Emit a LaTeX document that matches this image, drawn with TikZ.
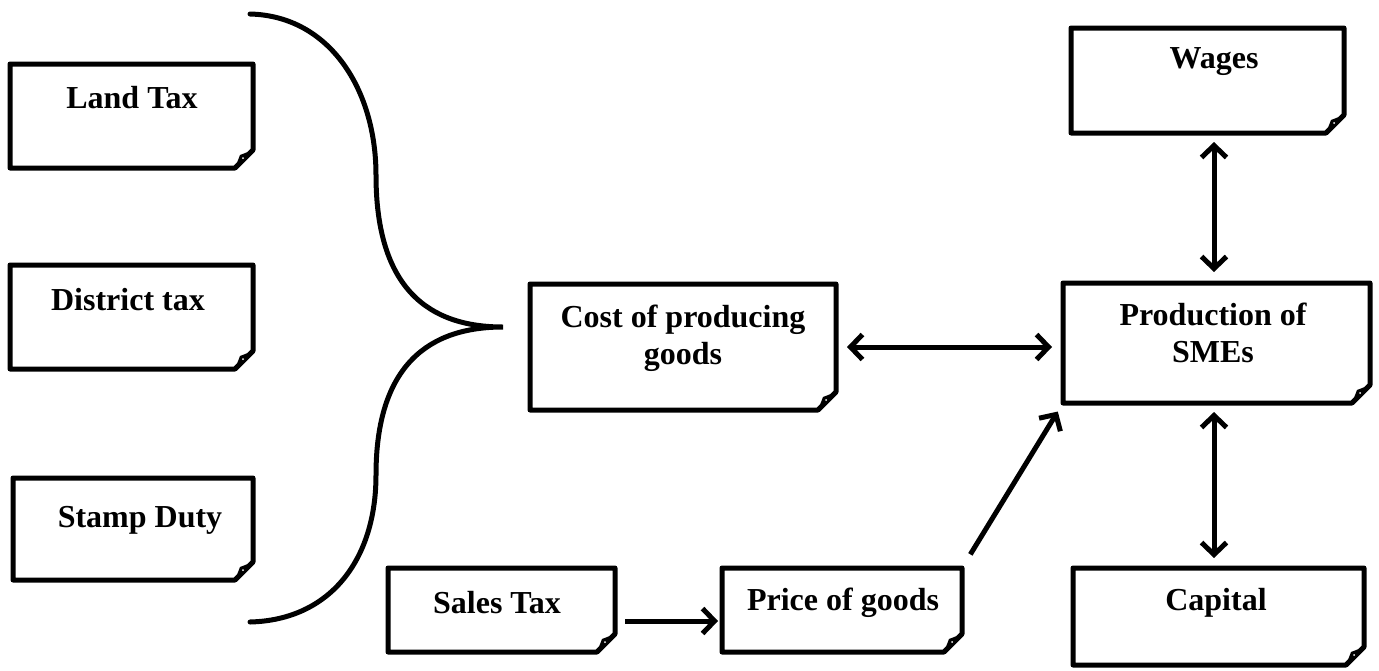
\documentclass[tikz,border=0pt]{standalone}
\usepackage{fontspec}
\setmainfont{Liberation Serif}
\usetikzlibrary{arrows.meta,calc}
\tikzset{
  boxn/.style={rectangle, inner sep=0pt, outer sep=0pt},
  boxline/.style={line width=5pt, line join=round},
  lbl/.style={inner sep=0pt, align=center, font=\fontsize{32}{37}\selectfont\bfseries},
  arr/.style={line width=5pt, -{Straight Barb[length=12pt,width=25pt]}},
  darr/.style={line width=5pt, {Straight Barb[length=12pt,width=25pt]}-{Straight Barb[length=12pt,width=25pt]}},
  bracestyle/.style={line width=5pt, line cap=round}
}
\newcommand\notebox[1]{%
  \draw[boxline] (#1.north west) -- (#1.north east) -- ([yshift=18pt]#1.south east)
     -- ([xshift=-18pt]#1.south east) -- (#1.south west) -- cycle;
  \fill ([yshift=18pt]#1.south east) .. controls ([xshift=-6pt,yshift=15pt]#1.south east)
     .. ([xshift=-13pt,yshift=13pt]#1.south east) .. controls ([xshift=-15pt,yshift=7pt]#1.south east)
     .. ([xshift=-18pt]#1.south east) -- cycle;
  \fill[white] ([xshift=-10pt,yshift=10pt]#1.south east) circle (1pt);
}
\begin{document}
\begin{tikzpicture}[x=1pt,y=-1pt]
\path[use as bounding box] (0,0) rectangle (1379,670);

% boxes
\node[boxn, minimum width=243pt, minimum height=104pt] (land) at (131.5,116) {};
\node[boxn, minimum width=243pt, minimum height=104pt] (district) at (131.5,317) {};
\node[boxn, minimum width=240pt, minimum height=102pt] (stamp) at (133,529) {};
\node[boxn, minimum width=306pt, minimum height=126pt] (cost) at (683,347) {};
\node[boxn, minimum width=307pt, minimum height=120pt] (prod) at (1216.5,343) {};
\node[boxn, minimum width=273pt, minimum height=105pt] (wages) at (1207.5,80.5) {};
\node[boxn, minimum width=291pt, minimum height=97pt] (capital) at (1218.5,616.5) {};
\node[boxn, minimum width=227pt, minimum height=84pt] (sales) at (501.5,610) {};
\node[boxn, minimum width=240pt, minimum height=84pt] (price) at (842,610) {};

\foreach \b in {land,district,stamp,cost,prod,wages,capital,sales,price}{\notebox{\b}}

% labels
\node[lbl] (landT) at (132,98) {Land Tax};
\node[lbl] (districtT) at (128,300) {District tax};
\node[lbl] (stampT) at (140,520) {Stamp Duty};
\node[lbl] (costT) at (683,338) {Cost of producing\\goods};
\node[lbl] (prodT) at (1213,333) {Production of\\SMEs};
\node[lbl] (wagesT) at (1214,62) {Wages};
\node[lbl] (capitalT) at (1216,603) {Capital};
\node[lbl] (salesT) at (497,603) {Sales Tax};
\node[lbl] (priceT) at (843,603) {Price of goods};

% brace
\draw[bracestyle] (250,14) .. controls (330,16) and (376,90) .. (376,175)
   .. controls (376,290) and (430,327) .. (503,327)
   .. controls (430,327) and (376,364) .. (376,475)
   .. controls (376,560) and (330,620) .. (250,622);

% connectors
\draw[darr, shorten <=11pt, shorten >=11pt] (cost.east) -- (cost.east -| prod.west);
\draw[darr, shorten <=9pt, shorten >=11pt] ([xshift=6.5pt]wages.south) -- ([xshift=6.5pt]wages.south |- prod.north);
\draw[darr, shorten <=9pt, shorten >=10pt] ([xshift=-2.5pt]prod.south) -- ([xshift=-2.5pt]prod.south |- capital.north);
\draw[arr, shorten <=10pt, shorten >=4pt] ([yshift=-11pt]sales.east) -- ([yshift=-11pt]sales.east -| price.west);
\draw[arr, shorten <=16pt, shorten >=10pt] (price.north east) -- (prod.south west);
\end{tikzpicture}
\end{document}
